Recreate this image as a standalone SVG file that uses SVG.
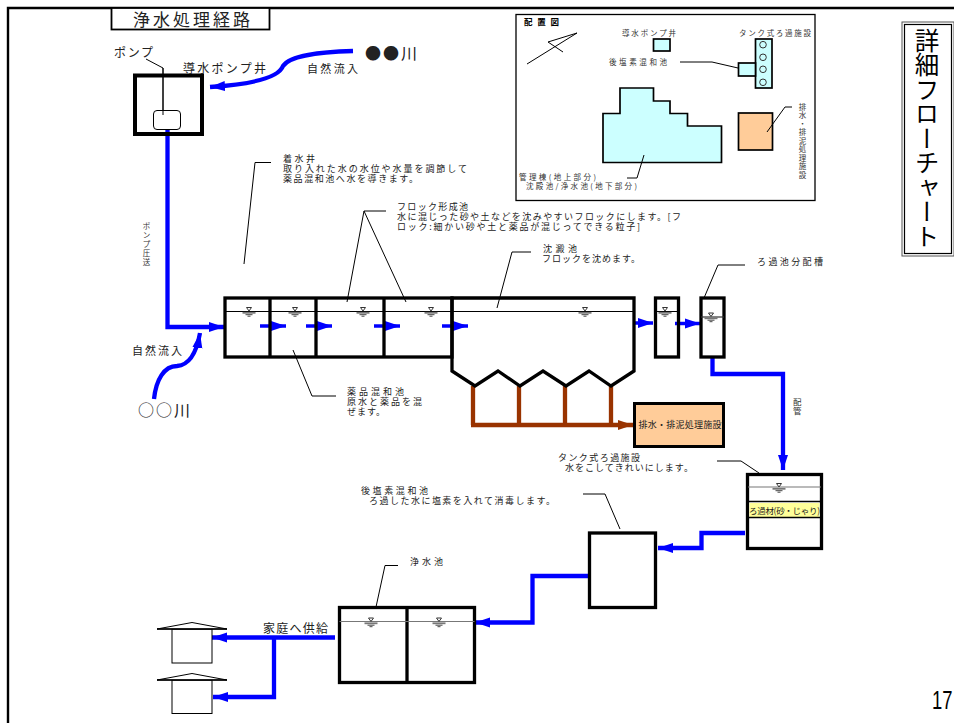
<svg xmlns="http://www.w3.org/2000/svg" width="954" height="723" viewBox="0 0 954 723">
<style>
text{font-family:"Noto Sans CJK JP","Noto Sans",sans-serif;fill:#222;font-size:9px;dominant-baseline:central}
.lead{fill:none;stroke:#000;stroke-width:1}
.wall{fill:none;stroke:#000;stroke-width:3.300}
.blue{fill:none;stroke:#00f;stroke-width:4.300}
.short{fill:none;stroke:#00f;stroke-width:3.500}
.brown{fill:none;stroke:#930;stroke-width:4.300}
.wl{stroke:#000;stroke-width:1;fill:none}
.wg{stroke:#777;stroke-width:1.200;fill:none}
.cy{fill:#cff;stroke:#000;stroke-width:1.700}
.or{fill:#fc9;stroke:#000;stroke-width:1.700}
.s{font-size:7.500px;fill:#333}
</style>
<defs>
<marker id="ab" markerUnits="userSpaceOnUse" markerWidth="16" markerHeight="12" refX="15" refY="6" orient="auto"><path d="M0 1L15 6L0 11Z" fill="#00f"/></marker>
<marker id="abr" markerUnits="userSpaceOnUse" markerWidth="16" markerHeight="12" refX="15" refY="6" orient="auto"><path d="M0 1L15 6L0 11Z" fill="#930"/></marker>
<g id="wm"><path d="M-2.500 -3.500H2.500L0 0Z" fill="#fff" stroke="#333" stroke-width="1"/><path d="M-6.500 1.800H6.500" stroke="#777" stroke-width="1.800"/><path d="M-3.500 3.700H3.500" stroke="#444" stroke-width="1"/><path d="M-1.500 5.200H1.500" stroke="#444" stroke-width="1"/></g>
</defs>
<rect width="954" height="723" fill="#fff"/>
<path id="frame" d="M954 8H8V723" fill="none" stroke="#000" stroke-width="2.400"/>

<g id="title"><rect x="111.500" y="8" width="158" height="21.500" fill="#fff" stroke="#000" stroke-width="1.800"/><text x="133" y="18.500" textLength="117" style="font-size:17px">浄水処理経路</text></g>

<g id="connectors">
<path class="lead" d="M146 59L163 68V115"/>
<path class="blue" d="M167.500 129V327H224" marker-end="url(#ab)"/>
<path class="blue" d="M353 51C320 52 290 55 283 66C279 77 255 84 210 87" marker-end="url(#ab)"/>
<path class="blue" d="M154 399C156 380 164 366 177 366C190 365 197 350 200 333" marker-end="url(#ab)"/>
<path class="short" d="M260 326H286" marker-end="url(#ab)"/>
<path class="short" d="M306 326H332" marker-end="url(#ab)"/>
<path class="short" d="M374 326H400" marker-end="url(#ab)"/>
<path class="short" d="M442 326H468" marker-end="url(#ab)"/>
<path class="short" d="M633 323H653" marker-end="url(#ab)"/>
<path class="short" d="M675 323.500H700" marker-end="url(#ab)"/>
<path class="blue" d="M712.500 357V374H783V470" marker-end="url(#ab)"/>
<path class="blue" d="M745 533H701.500V548H658" marker-end="url(#ab)"/>
<path class="blue" d="M588 576H532.500V622.500H475" marker-end="url(#ab)"/>
<path class="blue" d="M335 637.500H212" marker-end="url(#ab)"/>
<path class="blue" d="M274 637.500V697H213" marker-end="url(#ab)"/>
<path class="brown" d="M473 386V425M519 386V425M565 386V425M611 386V425"/>
<path class="brown" d="M471 425H633" marker-end="url(#abr)"/>
<path class="lead" d="M271 162.500H255L244 264"/>
<path class="lead" d="M386 211H364L347 302M364 211L406 302"/>
<path class="lead" d="M531 252H512L497 308"/>
<path class="lead" d="M745 265H718L704 298"/>
<path class="lead" d="M293 350L312 396H336"/>
<path class="lead" d="M717 461H741L759 473"/>
<path class="lead" d="M583 494H605L620 529"/>
<path class="lead" d="M398 565.500H385L376 607"/>
</g>

<g id="pump-well"><rect class="wall" x="135" y="75.500" width="67" height="58.500" style="stroke-width:4"/><rect x="153.500" y="110.500" width="27" height="19" rx="3.500" fill="#fff" stroke="#000" stroke-width="1"/><path class="lead" d="M163 68V115"/></g>

<g id="mixing-basins">
<rect class="wall" x="225" y="298" width="227" height="59"/>
<path class="wall" d="M270 298V357M316 298V357M384 298V357"/>
</g>
<g id="settling-basin"><path class="wall" d="M452 298H634V371L611 386L589 371L566 386L543 371L520 386L498 371L475 386L452 371Z"/></g>
<path class="wl" d="M225 311.500H634M655 311.500H679"/>
<g id="tank-a"><rect class="wall" x="655.500" y="298" width="23" height="59"/></g>
<g id="tank-b"><rect class="wall" x="701" y="298" width="23" height="59"/><path class="wg" d="M701 317H724" style="stroke:#333"/></g>
<g id="sludge"><rect x="634.500" y="403.500" width="89" height="43" fill="#fc9" stroke="#000" stroke-width="3"/><text x="638.500" y="424.500" textLength="83" style="font-size:9px">排水・排泥処理施設</text></g>
<g id="filter"><rect class="wall" x="747.500" y="474.500" width="74" height="74"/><rect x="749.500" y="503" width="70" height="14" fill="#ff9"/><path d="M748 501.500H821M748 517.500H821" stroke="#000" stroke-width="1.700"/><path class="wg" d="M748 487H821"/><text x="749" y="509.500" textLength="71" style="font-size:8.500px">ろ過材(砂・じゃり)</text></g>
<g id="chlorine"><rect class="wall" x="589.500" y="533" width="66" height="74.500"/></g>
<g id="clear-well"><rect class="wall" x="339.500" y="607.500" width="135" height="75"/><path class="wall" d="M407 607.500V682.500"/><path class="wg" d="M339.500 621.500H474.500"/></g>
<g id="marks">
<use href="#wm" x="249" y="311"/><use href="#wm" x="295" y="311"/><use href="#wm" x="363" y="311"/><use href="#wm" x="431" y="311"/><use href="#wm" x="585" y="311"/><use href="#wm" x="665" y="311"/><use href="#wm" x="711" y="316.500"/><use href="#wm" x="779" y="487"/><use href="#wm" x="371" y="621.500"/><use href="#wm" x="439" y="621.500"/>
</g>
<g id="house-1"><rect x="172" y="629" width="40" height="34" fill="#fff" stroke="#000" stroke-width="1"/><path d="M157 629L192 622.500L227 629Z" fill="#fff" stroke="#000" stroke-width="1"/><path d="M157 629H227" stroke="#000" stroke-width="1.500"/></g>
<g id="house-2"><rect x="172" y="680" width="40" height="33.500" fill="#fff" stroke="#000" stroke-width="1"/><path d="M157 680L192 673.500L227 680Z" fill="#fff" stroke="#000" stroke-width="1"/><path d="M157 680H227" stroke="#000" stroke-width="1.500"/></g>

<g id="labels">
<text x="114" y="51" textLength="39" style="font-size:12px">ポンプ</text>
<text x="183" y="67" textLength="83" style="font-size:12px">導水ポンプ井</text>
<text x="307" y="68" textLength="51" style="font-size:11px">自然流入</text>
<text x="365" y="52" textLength="52" style="font-size:16px">●●川</text>
<text x="138" y="409" textLength="52" style="font-size:16px">○○川</text>
<text x="132" y="350" textLength="50" style="font-size:11px">自然流入</text>
<text x="263" y="627" textLength="65" style="font-size:12px">家庭へ供給</text>
<text><tspan x="283" y="158" textLength="32">着水井</tspan><tspan x="283" y="168" textLength="184">取り入れた水の水位や水量を調節して</tspan><tspan x="283" y="178" textLength="135">薬品混和池へ水を導きます。</tspan></text>
<text><tspan x="397" y="206" textLength="71">フロック形成池</tspan><tspan x="397" y="216" textLength="284">水に混じった砂や土などを沈みやすいフロックにします。[フ</tspan><tspan x="397" y="226" textLength="243">ロック:細かい砂や土と薬品が混じってできる粒子]</tspan></text>
<text><tspan x="543" y="248" textLength="34">沈澱池</tspan><tspan x="542" y="258" textLength="98">フロックを沈めます。</tspan></text>
<text x="757" y="261" textLength="66">ろ過池分配槽</text>
<text><tspan x="347" y="391" textLength="57">薬品混和池</tspan><tspan x="347" y="401" textLength="75">原水と薬品を混</tspan><tspan x="347" y="411" textLength="38">ぜます。</tspan></text>
<text><tspan x="558" y="457" textLength="82">タンク式ろ過施設</tspan><tspan x="565" y="467" textLength="128">水をこしてきれいにします。</tspan></text>
<text><tspan x="361" y="489.500" textLength="67">後塩素混和池</tspan><tspan x="369" y="499.500" textLength="186">ろ過した水に塩素を入れて消毒します。</tspan></text>
<text x="410" y="561" textLength="33">浄水池</text>
<text class="s" x="142.750 142.750 142.750 142.750 142.750" y="225 234 243 252 261">ポンプ圧送</text>
<text class="s" x="793 793" y="401 410" style="font-size:8.500px">配管</text>
</g>

<g id="layout">
<rect x="516" y="14.500" width="299" height="186" fill="#fff" stroke="#000" stroke-width="1.300"/>
<text x="524" y="21" textLength="35" style="font-size:8.500px;font-weight:700;fill:#000">配置図</text>
<path class="lead" d="M527 64L577 33L548 42L563 52"/>
<text class="s" x="622" y="32" textLength="54">導水ポンプ井</text>
<text class="s" x="739" y="32" textLength="72">タンク式ろ過施設</text>
<text class="s" x="609" y="61" textLength="58">後塩素混和池</text>
<rect class="cy" x="653.500" y="39" width="16.500" height="12"/>
<rect class="cy" x="755.500" y="39" width="16.500" height="49"/>
<g fill="none" stroke="#333" stroke-width="1"><circle cx="763" cy="44.700" r="3.300"/><circle cx="763" cy="57.300" r="3.300"/><circle cx="763" cy="69.300" r="3.300"/><circle cx="763" cy="82.300" r="3.300"/></g>
<rect class="cy" x="738.500" y="63" width="17" height="13"/>
<path class="lead" d="M680 62H712L738 68"/>
<path class="cy" d="M603 113.500H620V88H653.500V101H670V113.500H687.500V126H721.500V162.500H603Z"/>
<rect class="or" x="738.500" y="113" width="34" height="37"/>
<path class="lead" d="M767 132L785 107H792"/>
<path class="lead" d="M644 155L637 178H627"/>
<text class="s"><tspan x="519" y="176" textLength="77">管理棟(地上部分)</tspan><tspan x="526" y="185" textLength="111">沈殿池/浄水池(地下部分)</tspan></text>
<text class="s" x="798.750 798.750 798.750 798.750 798.750 798.750 798.750 798.750 798.750" y="106 114.500 123 131.500 140 148.500 157 165.500 174">排水・排泥処理施設</text>
</g>

<g id="side-title"><rect x="902" y="22" width="52" height="234" fill="#fff" stroke="#555" stroke-width="1"/><rect x="904.500" y="24.500" width="47" height="229" fill="#fff" stroke="#000" stroke-width="1.200"/><text x="927" y="28" style="font-size:24.500px;writing-mode:vertical-rl;dominant-baseline:auto;fill:#000">詳細フローチャート</text></g>
<text x="932" y="709" textLength="20.500" lengthAdjust="spacingAndGlyphs" style="font-size:26px;font-family:'Liberation Sans',sans-serif;fill:#000;dominant-baseline:alphabetic">17</text>
</svg>
